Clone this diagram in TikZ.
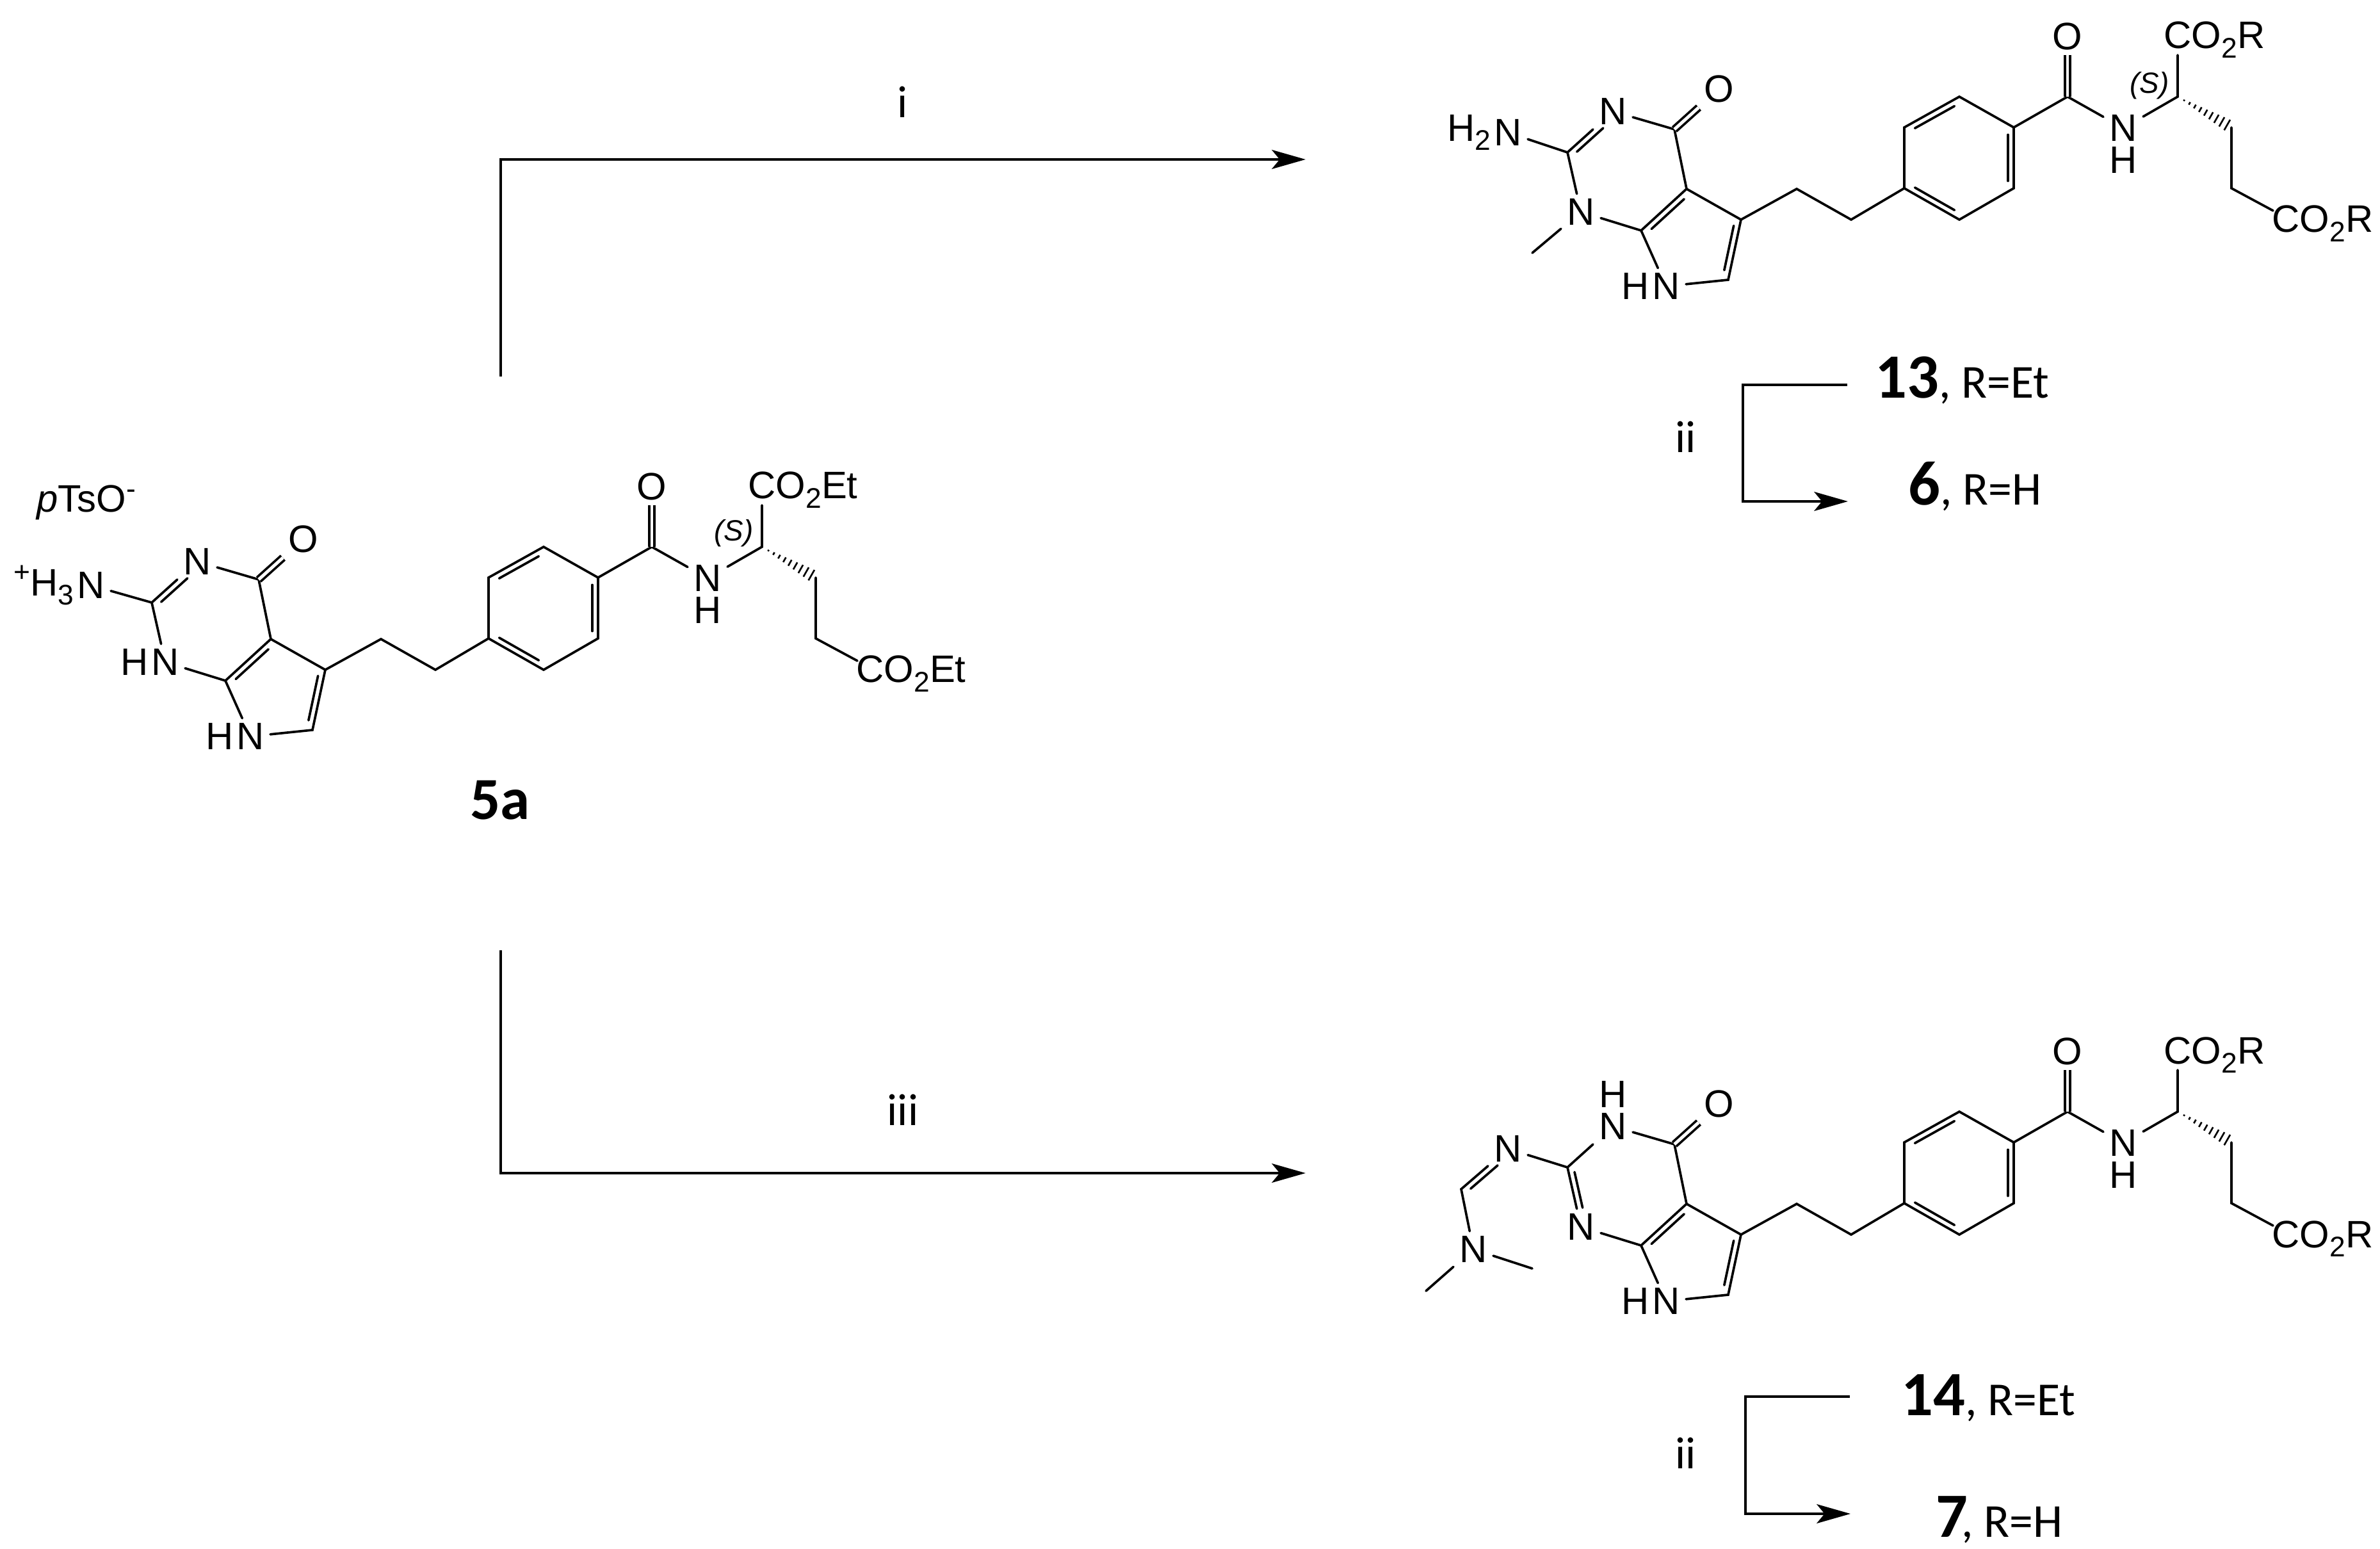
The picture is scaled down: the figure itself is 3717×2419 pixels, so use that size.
\documentclass[tikz,border=0pt]{standalone}
\usepackage{fontspec}
\setmainfont{Liberation Sans}
\newfontfamily\calfont{Carlito}
\usetikzlibrary{arrows.meta}
\usetikzlibrary{calc}
\tikzset{
	bond/.style={line width=1.05pt,line cap=round},
	dbond/.style={line width=1.05pt,double,double distance=1.4pt},
	atom/.style={font=\fontsize{17}{18}\selectfont,inner xsep=2.5pt,inner ysep=2pt},
	group/.style={font=\fontsize{17}{18}\selectfont,inner sep=0pt,anchor=base west},
	stereo/.style={font=\fontsize{13}{14}\selectfont\itshape,inner sep=0pt},
	rxn/.style={line width=1.15pt,-{Stealth[length=15pt,width=8.5pt,inset=3.5pt]}},
	reagent/.style={font=\calfont\fontsize{20}{22}\selectfont,inner sep=0pt},
	cmpd/.style={font=\calfont\fontsize{21}{22}\selectfont,inner sep=0pt,anchor=base west},
}
\newcommand{\lowr}[1]{\raisebox{-4pt}{\fontsize{12.6}{12}\selectfont #1}}
\newcommand{\upr}[1]{\raisebox{6pt}{\fontsize{12.6}{12}\selectfont #1}}
\newcommand{\bnum}[1]{{\fontsize{28}{28}\selectfont\bfseries #1}}
\newcommand{\innerbond}[5]{\draw[bond] ($(#1)!#4!(#2)!#3!90:(#2)$) -- ($(#2)!#5!(#1)!#3!-90:(#1)$);}
\newcommand{\pemcore}[1]{
	\coordinate (c2) at (237,941);
	\coordinate (c4) at (404,905);
	\coordinate (c4a) at (423,998);
	\coordinate (c5) at (508,1046);
	\coordinate (c6) at (488,1140);
	\coordinate (c7a) at (352,1063);
	\coordinate (ch1) at (595,998);
	\coordinate (ch2) at (680,1046);
	\coordinate (ar1) at (763,997);
	\coordinate (ar2) at (763,902);
	\coordinate (ar3) at (849,854);
	\coordinate (ar4) at (934,902);
	\coordinate (ar5) at (934,997);
	\coordinate (ar6) at (849,1046);
	\coordinate (co) at (1018,854);
	\coordinate (ca) at (1190,854);
	\coordinate (cb) at (1274,902);
	\coordinate (cg) at (1274,997);
	\coordinate (cend) at (1190,789);
	\coordinate (gend) at (1339,1032);
	\node[atom] (n3) at (308,877) {N};
	\node[atom] (n1) at (258,1034) {N};
	\node[atom] (n7) at (391,1150) {N};
	\node[atom] (o4) at (474,842) {O};
	\node[atom] (oam) at (1018,760) {O};
	\node[atom] (nam) at (1105,903) {N};
	\node[atom] (ham) at (1105,953) {H};
	\node[atom,anchor=east,inner xsep=0pt] (h7) at ([xshift=1.5pt]n7.west) {H};
	\node[group] (esta) at (1168,779) {CO\lowr{2}#1};
	\node[group] (estg) at (1337,1066) {CO\lowr{2}#1};
	\draw[bond] (n3) -- (c4) -- (c4a) -- (c7a) -- (n7) -- (c6) -- (c5) -- (c4a);
	\draw[bond] (n1) -- (c7a);
	\draw[bond] (c5) -- (ch1) -- (ch2) -- (ar1) -- (ar2) -- (ar3) -- (ar4) -- (ar5) -- (ar6) -- (ar1);
	\draw[bond] (ar4) -- (co) -- (nam) -- (ca) -- (cend);
	\draw[bond] (cb) -- (cg) -- (gend);
	\draw[dbond] (c4) -- (o4);
	\draw[dbond] (co) -- (oam);
	\innerbond{c4a}{c7a}{2.6pt}{0.14}{0.14}
	\innerbond{c5}{c6}{-2.6pt}{0.12}{0.14}
	\innerbond{ar2}{ar3}{-2.6pt}{0.14}{0.14}
	\innerbond{ar4}{ar5}{-2.6pt}{0.12}{0.12}
	\innerbond{ar1}{ar6}{2.6pt}{0.14}{0.14}
	\foreach \t in {0.12,0.22,...,1.0}
		\draw[line width=0.75pt] ($(ca)!\t!(cb)!{\t*2.9pt}!90:(cb)$) -- ($(ca)!\t!(cb)!{\t*2.9pt}!-90:(cb)$);
}
\begin{document}
\begin{tikzpicture}[x=0.01cm,y=-0.01cm]
	\useasboundingbox (0,0) rectangle (3717,2419);
	\begin{scope}[name prefix=sa-]
		\pemcore{Et}
		\node[atom] (nexo) at (142,914) {N};
		\node[atom,anchor=east,inner xsep=0pt] (hexo) at ([xshift=1.5pt]nexo.west) {\upr{+}H\lowr{3}};
		\node[atom,anchor=east,inner xsep=0pt] (h1) at ([xshift=1.5pt]n1.west) {H};
		\node[stereo] (stereo) at (1146,833) {(S)};
		\node[atom,anchor=base west,inner sep=0pt] (tos) at (57,800) {\textit{p}TsO\upr{-}};
		\node[inner sep=0pt,font=\calfont\fontsize{26.5}{28}\selectfont\bfseries] (lab) at (781,1250) {5a};
		\draw[bond] (nexo) -- (c2);
		\draw[bond] (c2) -- (n3);
		\draw[bond] (c2) -- (n1);
		\innerbond{c2}{n3}{-2.6pt}{0.12}{0.3}
	\end{scope}
	\begin{scope}[shift={(2211,-703)},name prefix=sb-]
		\pemcore{R}
		\node[atom] (nexo) at (144,910) {N};
		\node[atom,anchor=east,inner xsep=0pt] (hexo) at ([xshift=1.5pt]nexo.west) {H\lowr{2}};
		\coordinate (me) at (182,1098);
		\node[stereo] (stereo) at (1146,837) {(S)};
		\draw[bond] (nexo) -- (c2);
		\draw[bond] (c2) -- (n3);
		\draw[bond] (c2) -- (n1) -- (me);
		\innerbond{c2}{n3}{-2.6pt}{0.12}{0.3}
	\end{scope}
	\begin{scope}[shift={(2211,882)},name prefix=sc-]
		\pemcore{R}
		\node[atom] (nexo) at (144,912) {N};
		\node[atom] (hn3) at (308,827) {H};
		\coordinate (cf) at (71,975);
		\node[atom] (nme) at (90,1069) {N};
		\coordinate (mea) at (182,1099);
		\coordinate (meb) at (16,1134);
		\draw[bond] (n3) -- (c2);
		\draw[bond] (c2) -- (n1);
		\draw[bond] (c2) -- (nexo) -- (cf) -- (nme) -- (mea);
		\draw[bond] (nme) -- (meb);
		\innerbond{c2}{n1}{2.6pt}{0.1}{0.3}
		\innerbond{cf}{nexo}{-2.6pt}{0.12}{0.3}
	\end{scope}
	\coordinate (upstart) at (782,588);
	\coordinate (upcorner) at (782,249);
	\coordinate (uptip) at (2039,249);
	\coordinate (downstart) at (782,1484);
	\coordinate (downcorner) at (782,1832);
	\coordinate (downtip) at (2039,1832);
	\draw[rxn] (upstart) -- (upcorner) -- (uptip);
	\draw[rxn] (downstart) -- (downcorner) -- (downtip);
	\node[reagent] (ri) at (1410,159) {i};
	\node[reagent] (riii) at (1410,1733) {iii};
	\coordinate (ua) at (2885,601);
	\coordinate (ub) at (2722,601);
	\coordinate (uc) at (2722,783);
	\coordinate (ud) at (2886,783);
	\draw[rxn] (ua) -- (ub) -- (uc) -- (ud);
	\coordinate (la) at (2889,2181);
	\coordinate (lb) at (2726,2181);
	\coordinate (lc) at (2726,2364);
	\coordinate (ld) at (2890,2364);
	\draw[rxn] (la) -- (lb) -- (lc) -- (ld);
	\node[reagent] (riiu) at (2633,682) {ii};
	\node[reagent] (riil) at (2633,2269) {ii};
	\node[cmpd] (cthirteen) at (2928,622) {\bnum{13}, R=Et};
	\node[cmpd] (csix) at (2980,789) {\bnum{6}, R=H};
	\node[cmpd] (cfourteen) at (2969,2210) {\bnum{14}, R=Et};
	\node[cmpd] (cseven) at (3023,2400) {\bnum{7}\kern-3pt, R=H};
\end{tikzpicture}
\end{document}
